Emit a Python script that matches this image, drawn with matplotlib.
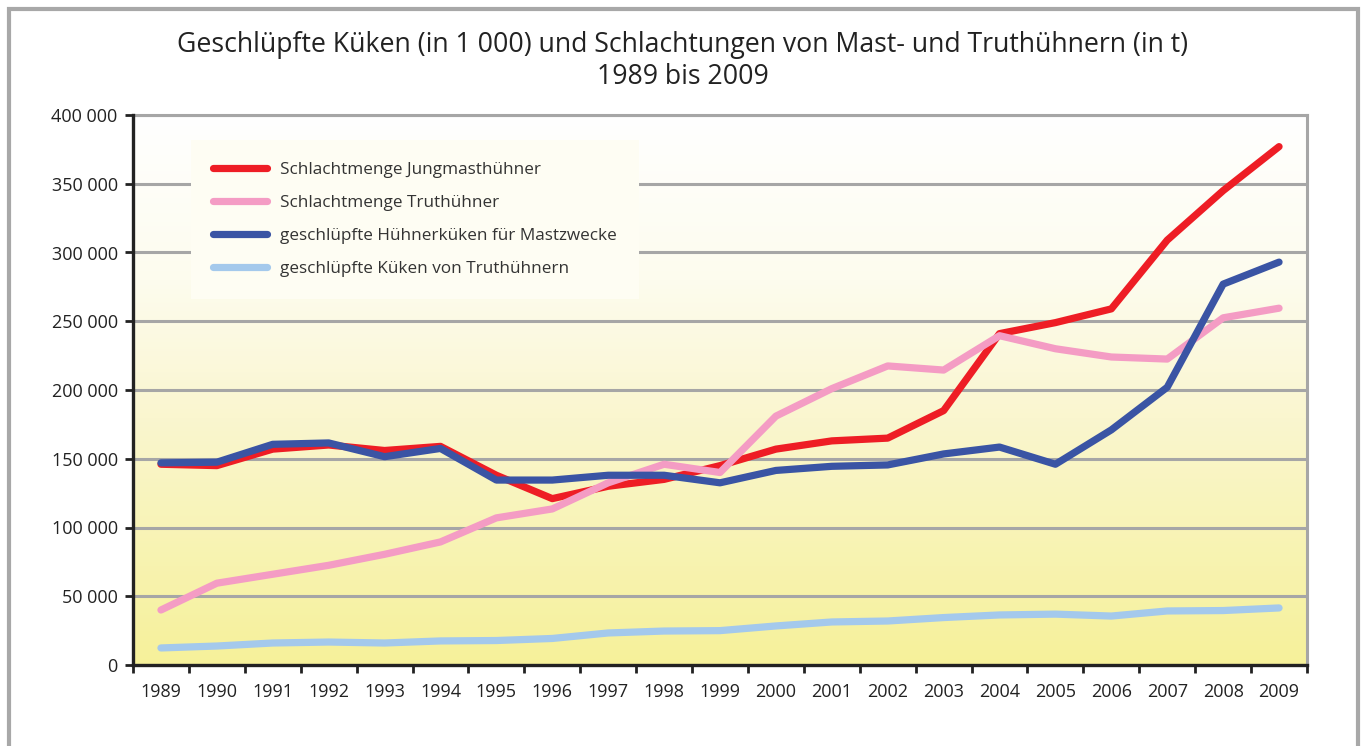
import matplotlib
matplotlib.use("Agg")
import matplotlib.pyplot as plt
import numpy as np
from matplotlib.colors import LinearSegmentedColormap
from matplotlib.patches import Rectangle
from matplotlib.ticker import FixedLocator, FuncFormatter, NullFormatter

plt.rcParams["font.family"] = ["Open Sans", "DejaVu Sans"]

years = [str(y) for y in range(1989, 2010)]

schlacht_jungmast = [146000, 145000, 157000, 160000, 156000, 159000, 138000,
                     121000, 130000, 135000, 145000, 157000, 163000, 165000,
                     185000, 241000, 249000, 259000, 309000, 345000, 377000]
schlacht_truthuehner = [40000, 59500, 66000, 72500, 80500, 89500, 107000,
                        113500, 132500, 146000, 140000, 181000, 201000, 217500,
                        214500, 239500, 230000, 224000, 222500, 252500, 259500]
kueken_mast = [147000, 147500, 160500, 161500, 151500, 157500, 134500,
               134500, 138000, 138000, 132500, 141500, 144500, 145500,
               153500, 158500, 146000, 171000, 202000, 277000, 293000]
kueken_truthuehner = [12400, 13800, 16000, 16700, 16000, 17500, 17800,
                      19300, 23300, 24700, 25000, 28400, 31300, 32000,
                      34500, 36400, 37000, 35600, 39300, 39600, 41500]

series = [
    ("Schlachtmenge Jungmasthühner", schlacht_jungmast, "#ee1d25"),
    ("Schlachtmenge Truthühner", schlacht_truthuehner, "#f49cc4"),
    ("geschlüpfte Hühnerküken für Mastzwecke", kueken_mast, "#3a54a4"),
    ("geschlüpfte Küken von Truthühnern", kueken_truthuehner, "#a4c9ec"),
]

W, H = 1365, 746
fig = plt.figure(figsize=(W / 100, H / 100), dpi=100)
fig.patch.set_facecolor("white")

# outer grey frame (bottom edge lies outside the picture)
fig.patches.append(Rectangle((9 / W, -0.05), (1358 - 9) / W, 1.05 - 9 / H,
                             transform=fig.transFigure, fill=False,
                             edgecolor="#a8a8a8", linewidth=3))

ax = fig.add_axes([133 / W, 1 - 665 / H, (1307 - 133) / W, (665 - 115) / H])

# white-to-yellow gradient background
grad = LinearSegmentedColormap.from_list(
    "bg", [(0.0, "#f6f19a"), (0.45, "#faf6cf"), (0.7, "#fdfcee"),
           (1.0, "#ffffff")])
ax.imshow(np.linspace(0, 1, 256).reshape(-1, 1), cmap=grad, aspect="auto",
          extent=[0, 1, 0, 1], transform=ax.transAxes, origin="lower",
          zorder=0)

x = np.arange(len(years))
for label, vals, col in series:
    ax.plot(x, vals, color=col, linewidth=5.2, solid_capstyle="round",
            solid_joinstyle="round", label=label, zorder=3)

ax.set_xlim(-0.5, len(years) - 0.5)
ax.set_ylim(0, 400000)

ax.yaxis.set_major_locator(FixedLocator(np.arange(0, 400001, 50000)))
ax.yaxis.set_major_formatter(
    FuncFormatter(lambda v, p: f"{int(v):,}".replace(",", " ")))
ax.grid(axis="y", color="#a6a6a6", linewidth=2.2, zorder=1)
ax.set_axisbelow(True)

ax.xaxis.set_major_locator(FixedLocator(np.arange(-0.5, len(years), 1.0)))
ax.xaxis.set_major_formatter(NullFormatter())
ax.xaxis.set_minor_locator(FixedLocator(x))
ax.set_xticklabels(years, minor=True)
ax.tick_params(axis="x", which="major", direction="out", length=6, width=2,
               color="#222222")
ax.tick_params(axis="x", which="minor", length=0, pad=13, labelsize=13,
               labelcolor="#222222")
ax.tick_params(axis="y", direction="out", length=6, width=2, color="#222222",
               labelsize=13, labelcolor="#222222", pad=5)

for side in ("left", "bottom"):
    ax.spines[side].set_color("#222222")
    ax.spines[side].set_linewidth(2.4)
    ax.spines[side].set_zorder(4)
for side in ("right", "top"):
    ax.spines[side].set_color("#a6a6a6")
    ax.spines[side].set_linewidth(2.2)

leg = ax.legend(loc="upper left", bbox_to_anchor=(49 / 1174, 1 - 16 / 550),
                fontsize=12.3, handlelength=3.2, handletextpad=0.75,
                labelspacing=1.0, borderpad=1.3, frameon=True,
                facecolor="#fefdf3", edgecolor="none", framealpha=1,
                fancybox=False)
for t in leg.get_texts():
    t.set_color("#333333")
leg.set_zorder(2)

fig.text(0.5, 1 - 45 / H, "Geschlüpfte Küken (in 1 000) und Schlachtungen von "
         "Mast- und Truthühnern (in t)", ha="center", va="center",
         fontsize=19.2, color="#222222")
fig.text(0.5, 1 - 77 / H, "1989 bis 2009", ha="center", va="center",
         fontsize=19.2, color="#222222")

fig.savefig("out.png", dpi=100, facecolor="white")
